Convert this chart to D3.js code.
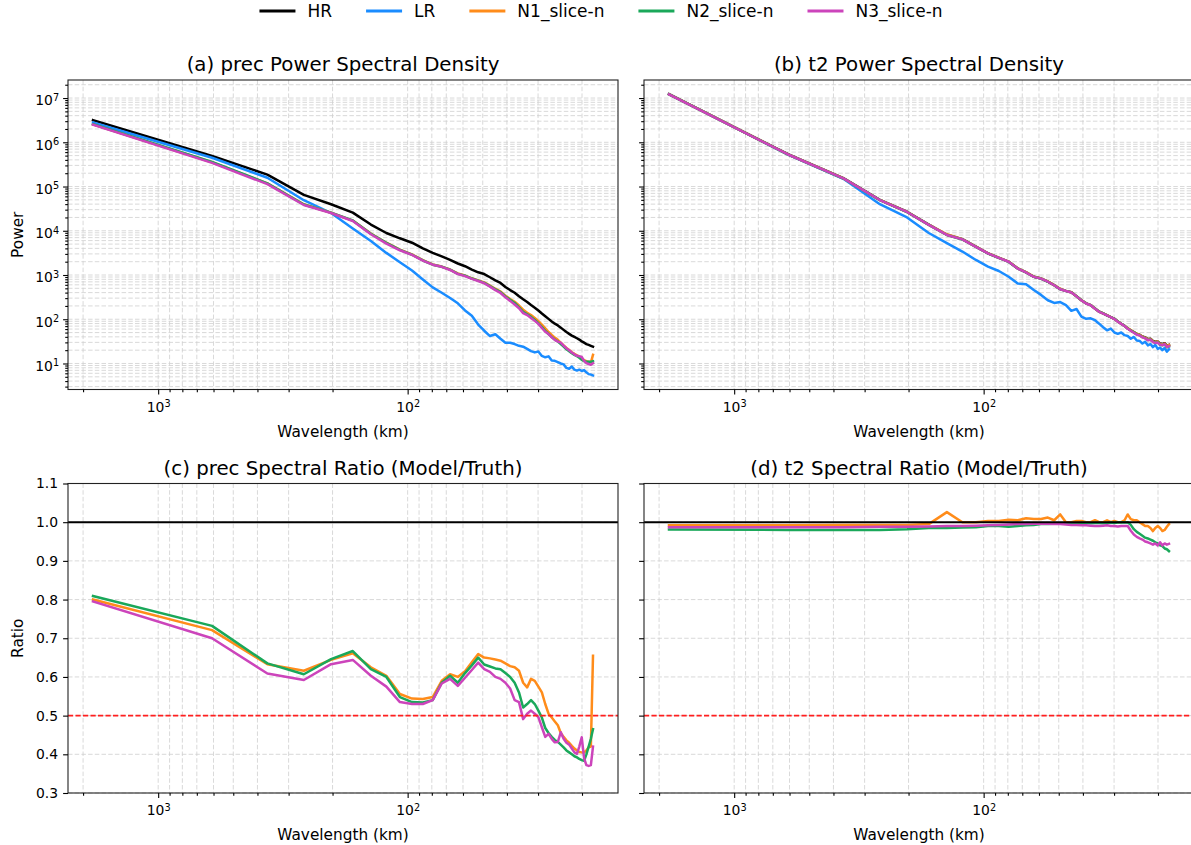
<!DOCTYPE html>
<html>
<head>
<meta charset="utf-8">
<script src="https://cdn.jsdelivr.net/npm/d3@7"></script>
<style>
  body { margin: 0; background: #fff; }
  text { font-family: "DejaVu Sans", sans-serif; fill: #000; }
</style>
</head>
<body>
<svg id="fig" width="1191" height="845"></svg>
<script>
// Wavelength of each spectral bin (km)
const wavelengthKm = [1825, 608.3, 365.0, 260.7, 202.8, 165.9, 140.4, 121.7, 107.4, 96.05,
  86.90, 79.35, 73.00, 67.59, 62.93, 58.87, 55.30, 52.14, 49.32, 46.79,
  44.51, 42.44, 40.56, 38.83, 37.24, 35.78, 34.43, 33.18, 32.02, 30.93,
  29.92, 28.97, 28.08, 27.24, 26.45, 25.71, 25.00, 24.33, 23.70, 23.09,
  22.52, 21.97, 21.45, 20.95, 20.51, 20.05, 19.62, 19.21, 18.81, 18.43, 18.07];

const seriesNames = ["HR", "LR", "N1_slice-n", "N2_slice-n", "N3_slice-n"];
const seriesColors = ["#000000", "#1a8cff", "#ff8c1a", "#1aa85a", "#cc44bb"];

// Precipitation power spectra
const precHR = [3.16e6, 4.90e5, 1.86e5, 6.46e4, 3.98e4, 2.57e4, 1.38e4, 8.91e3, 6.76e3, 5.37e3,
  3.98e3, 3.16e3, 2.63e3, 2.19e3, 1.82e3, 1.58e3, 1.32e3, 1.15e3, 1.05e3, 891,
  759, 661, 537, 457, 398, 331, 282, 245, 209, 182,
  158, 135, 117, 102, 89.1, 79.4, 72.4, 64.6, 57.5, 51.3,
  46.8, 42.7, 39.8, 37.2, 34.7, 31.6, 29.5, 27.5, 26.3, 25.1, 24.0];
const precLR = [2.79e6, 4.47e5, 1.58e5, 4.90e4, 2.51e4, 1.12e4, 5.89e3, 3.16e3, 1.95e3, 1.26e3,
  794, 525, 398, 302, 229, 158, 120, 75.9, 55.0, 41.7,
  45.7, 36.3, 29.5, 29.5, 27.5, 25.1, 24.0, 21.4, 19.1, 17.8,
  18.6, 14.8, 13.8, 14.5, 11.7, 11.5, 10.7, 10.0, 9.55, 7.94,
  7.59, 8.51, 7.24, 6.92, 7.24, 6.76, 7.08, 6.31, 5.75, 5.62, 5.37];
const precN1 = [2.53e6, 3.53e5, 1.18e5, 3.98e4, 2.56e4, 1.70e4, 8.63e3, 5.37e3, 3.76e3, 2.92e3,
  2.16e3, 1.73e3, 1.55e3, 1.33e3, 1.09e3, 972, 842, 758, 683, 577,
  490, 424, 341, 287, 249, 204, 165, 140, 124, 107,
  90.9, 75.6, 62.0, 51.5, 44.1, 38.5, 34.4, 29.4, 25.6, 22.4,
  20.1, 18.0, 16.5, 15.3, 14.1, 12.8, 11.9, 11.3, 11.0, 10.5, 15.7];
const precN2 = [2.56e6, 3.59e5, 1.18e5, 3.92e4, 2.57e4, 1.71e4, 8.56e3, 5.35e3, 3.70e3, 2.87e3,
  2.13e3, 1.71e3, 1.54e3, 1.32e3, 1.06e3, 964, 832, 748, 664, 559,
  472, 410, 328, 274, 233, 185, 147, 130, 113, 96.5,
  81.1, 66.8, 54.8, 46.4, 39.6, 34.7, 31.3, 27.5, 24.0, 21.0,
  19.0, 17.1, 15.7, 14.6, 13.5, 12.2, 11.3, 11.0, 11.0, 11.0, 11.2];
const precN3 = [2.51e6, 3.43e5, 1.13e5, 3.82e4, 2.52e4, 1.66e4, 8.32e3, 5.12e3, 3.62e3, 2.85e3,
  2.11e3, 1.71e3, 1.53e3, 1.30e3, 1.05e3, 945, 816, 733, 651, 546,
  455, 393, 314, 260, 215, 177, 138, 124, 107, 91.9,
  78.4, 63.5, 52.1, 46.2, 39.2, 34.2, 31.3, 29.5, 25.3, 22.1,
  19.9, 17.7, 16.1, 14.9, 14.6, 14.0, 11.5, 10.2, 9.73, 9.34, 10.1];

// 2 m temperature power spectra
const t2HR = [1.23e7, 5.37e5, 1.55e5, 5.01e4, 2.69e4, 1.38e4, 8.13e3, 6.46e3, 4.37e3, 3.09e3,
  2.45e3, 2.00e3, 1.41e3, 1.15e3, 912, 832, 708, 589, 479, 437,
  407, 331, 269, 229, 209, 174, 148, 135, 123, 112,
  102, 89.1, 79.4, 70.8, 61.7, 56.2, 51.3, 46.8, 44.7, 40.7,
  38.9, 35.5, 36.3, 32.4, 30.9, 31.6, 28.2, 27.5, 28.8, 25.1, 26.3];
const t2LR = [1.23e7, 5.25e5, 1.50e5, 3.98e4, 2.00e4, 8.90e3, 5.25e3, 3.39e3, 2.19e3, 1.55e3,
  1.23e3, 912, 646, 620, 457, 355, 269, 234, 245, 209,
  155, 170, 115, 102, 105, 95.0, 79.4, 66.1, 56.2, 61.7,
  50.1, 46.8, 50.1, 43.7, 41.7, 36.3, 39.8, 33.1, 32.4, 28.2,
  30.9, 25.7, 27.5, 23.4, 26.3, 21.4, 22.9, 20.0, 22.4, 18.6, 20.9];
const t2N1 = [1.22e7, 5.33e5, 1.54e5, 4.97e4, 2.67e4, 1.37e4, 8.34e3, 6.46e3, 4.37e3, 3.10e3,
  2.46e3, 2.01e3, 1.42e3, 1.16e3, 919, 839, 716, 592, 489, 437,
  407, 332, 270, 229, 209, 175, 148, 135, 124, 112,
  102, 89.1, 79.4, 71.2, 62.9, 56.7, 51.6, 47.0, 44.7, 40.5,
  38.5, 35.1, 35.8, 31.7, 30.4, 31.3, 27.8, 26.9, 28.2, 24.8, 26.2];
const t2N2 = [1.21e7, 5.26e5, 1.52e5, 4.91e4, 2.64e4, 1.36e4, 8.01e3, 6.37e3, 4.31e3, 3.06e3,
  2.43e3, 1.98e3, 1.40e3, 1.14e3, 906, 828, 704, 587, 478, 436,
  405, 330, 268, 229, 208, 174, 148, 135, 123, 112,
  102, 89.0, 79.4, 70.7, 61.7, 55.8, 50.4, 45.6, 43.4, 39.3,
  37.3, 34.0, 34.7, 30.8, 29.3, 29.9, 26.5, 25.8, 26.8, 23.3, 24.3];
const t2N3 = [1.21e7, 5.30e5, 1.53e5, 4.95e4, 2.66e4, 1.36e4, 8.05e3, 6.40e3, 4.33e3, 3.07e3,
  2.43e3, 1.99e3, 1.40e3, 1.14e3, 908, 829, 705, 586, 477, 434,
  404, 329, 267, 227, 207, 172, 147, 134, 122, 111,
  101, 88.1, 78.6, 70.1, 61.1, 55.0, 49.7, 45.0, 42.8, 38.9,
  37.0, 33.7, 34.3, 30.5, 29.2, 29.7, 26.7, 25.9, 27.2, 23.6, 24.8];

// Spectral ratios (model / truth)
const precRatioN1 = [0.800, 0.721, 0.633, 0.616, 0.644, 0.661, 0.625, 0.603, 0.556, 0.544,
  0.543, 0.548, 0.590, 0.607, 0.600, 0.615, 0.638, 0.659, 0.650, 0.648,
  0.645, 0.642, 0.635, 0.628, 0.625, 0.616, 0.585, 0.573, 0.595, 0.590,
  0.575, 0.560, 0.530, 0.505, 0.495, 0.485, 0.475, 0.455, 0.445, 0.436,
  0.430, 0.422, 0.415, 0.410, 0.406, 0.405, 0.405, 0.410, 0.418, 0.420, 0.655];
const precRatioN2 = [0.809, 0.732, 0.635, 0.607, 0.646, 0.667, 0.620, 0.600, 0.548, 0.535,
  0.534, 0.540, 0.585, 0.603, 0.585, 0.610, 0.630, 0.650, 0.632, 0.627,
  0.622, 0.620, 0.610, 0.600, 0.585, 0.560, 0.521, 0.530, 0.540, 0.530,
  0.513, 0.495, 0.468, 0.455, 0.445, 0.437, 0.432, 0.425, 0.418, 0.410,
  0.405, 0.400, 0.395, 0.392, 0.388, 0.385, 0.383, 0.400, 0.420, 0.440, 0.465];
const precRatioN3 = [0.795, 0.700, 0.609, 0.592, 0.633, 0.644, 0.603, 0.575, 0.535, 0.530,
  0.530, 0.540, 0.583, 0.595, 0.577, 0.598, 0.618, 0.637, 0.620, 0.613,
  0.600, 0.595, 0.585, 0.570, 0.540, 0.535, 0.491, 0.505, 0.513, 0.505,
  0.496, 0.470, 0.445, 0.453, 0.440, 0.431, 0.432, 0.457, 0.440, 0.430,
  0.425, 0.415, 0.405, 0.401, 0.420, 0.444, 0.390, 0.372, 0.370, 0.372, 0.420];
const t2RatioN1 = [0.992, 0.992, 0.993, 0.993, 0.993, 0.995, 1.026, 1.000, 1.000, 1.003,
  1.003, 1.006, 1.005, 1.010, 1.008, 1.008, 1.012, 1.005, 1.020, 1.000,
  1.000, 1.003, 1.003, 1.000, 1.000, 1.005, 1.000, 1.000, 1.005, 1.000,
  1.003, 1.000, 1.000, 1.005, 1.020, 1.008, 1.005, 1.005, 1.000, 0.995,
  0.990, 0.990, 0.985, 0.977, 0.985, 0.990, 0.985, 0.977, 0.980, 0.988, 0.995];
const t2RatioN2 = [0.981, 0.980, 0.980, 0.980, 0.982, 0.985, 0.985, 0.986, 0.987, 0.990,
  0.990, 0.988, 0.990, 0.992, 0.993, 0.995, 0.995, 0.996, 0.997, 0.997,
  0.996, 0.997, 0.998, 0.998, 0.997, 0.998, 0.998, 0.997, 0.998, 0.999,
  0.998, 0.999, 1.000, 0.999, 1.000, 0.993, 0.982, 0.975, 0.970, 0.965,
  0.960, 0.958, 0.955, 0.952, 0.948, 0.945, 0.940, 0.938, 0.932, 0.930, 0.925];
const t2RatioN3 = [0.987, 0.987, 0.987, 0.988, 0.988, 0.989, 0.990, 0.990, 0.991, 0.992,
  0.993, 0.994, 0.995, 0.995, 0.996, 0.996, 0.996, 0.995, 0.995, 0.994,
  0.993, 0.993, 0.992, 0.992, 0.991, 0.990, 0.990, 0.991, 0.992, 0.990,
  0.990, 0.989, 0.990, 0.990, 0.990, 0.978, 0.968, 0.962, 0.958, 0.955,
  0.950, 0.948, 0.945, 0.942, 0.945, 0.940, 0.948, 0.940, 0.945, 0.942, 0.944];

const ratioTicks = [0.3, 0.4, 0.5, 0.6, 0.7, 0.8, 0.9, 1.0, 1.1];
const ratioRange = [0.3, 1.1];
const ratioReference = 1.0;
const ratioThreshold = 0.5;

// ---------------------------------------------------------------------------
const svg = d3.select("#fig");
const panelW = 550, panelH = 309.5;
const FS_TICK = 13.9, FS_LABEL = 15.3, FS_TITLE = 19.8, FS_LEGEND = 17;
const GRID = "#cfcfcf";
const LW = 2.5;

const panels = [
  { left: 68,  top: 80,    kind: "psd",   title: "(a) prec Power Spectral Density", ylabel: "Power", yLabels: true,
    series: [precHR, precLR, precN1, precN2, precN3], idx: [0, 1, 2, 3, 4] },
  { left: 644, top: 80,    kind: "psd",   title: "(b) t2 Power Spectral Density", ylabel: null, yLabels: false,
    series: [t2HR, t2LR, t2N1, t2N2, t2N3], idx: [0, 1, 2, 3, 4] },
  { left: 68,  top: 483.5, kind: "ratio", title: "(c) prec Spectral Ratio (Model/Truth)", ylabel: "Ratio", yLabels: true,
    series: [precRatioN1, precRatioN2, precRatioN3], idx: [2, 3, 4] },
  { left: 644, top: 483.5, kind: "ratio", title: "(d) t2 Spectral Ratio (Model/Truth)", ylabel: null, yLabels: false,
    series: [t2RatioN1, t2RatioN2, t2RatioN3], idx: [2, 3, 4] }
];

// x: log wavelength, decreasing to the right, 5% margin in log space
const lx = d3.extent(wavelengthKm, d => Math.log10(d));
const padX = (lx[1] - lx[0]) * 0.05;
const x = d3.scaleLog().domain([10 ** (lx[1] + padX), 10 ** (lx[0] - padX)]).range([0, panelW]);

// shared y for the two spectra panels
const allPsd = [precHR, precLR, precN1, precN2, precN3, t2HR, t2LR, t2N1, t2N2, t2N3].flat();
const ly = d3.extent(allPsd, d => Math.log10(d));
const padY = (ly[1] - ly[0]) * 0.05;
const yPsd = d3.scaleLog().domain([10 ** (ly[0] - padY), 10 ** (ly[1] + padY)]).range([panelH, 0]);
const yRatio = d3.scaleLinear().domain(ratioRange).range([panelH, 0]);

const xTicksAll = x.ticks(30);
const isPow10 = v => Math.abs(Math.log10(v) - Math.round(Math.log10(v))) < 1e-9;
const xMajor = xTicksAll.filter(isPow10);
const xMinor = xTicksAll.filter(v => !isPow10(v));
const yTicksAll = yPsd.ticks(30);
const yMajor = yTicksAll.filter(isPow10);
const yMinor = yTicksAll.filter(v => !isPow10(v));

function powLabel(sel) {
  sel.each(function (d) {
    const t = d3.select(this);
    const e = Math.round(Math.log10(d));
    t.text(null);
    t.append("tspan").text("10");
    t.append("tspan").attr("dy", "-0.48em").attr("font-size", (FS_TICK * 0.7) + "px").text(e);
  });
}

function styleAxis(g) {
  g.select(".domain").remove();
  g.selectAll(".tick line").attr("stroke", "#000").attr("stroke-width", 1.1);
  g.selectAll(".tick text").attr("font-size", FS_TICK + "px").attr("font-family", "DejaVu Sans, sans-serif").attr("fill", "#000");
}

panels.forEach((p, pi) => {
  const g = svg.append("g").attr("transform", `translate(${p.left},${p.top})`);
  const y = p.kind === "psd" ? yPsd : yRatio;

  const clipId = "clip" + pi;
  g.append("clipPath").attr("id", clipId).append("rect").attr("width", panelW).attr("height", panelH);

  // grid on every major and minor tick
  const grid = g.append("g").attr("stroke", GRID).attr("stroke-width", 0.8).attr("stroke-dasharray", "4.5,2.2");
  grid.selectAll("line.gx").data(xTicksAll).join("line")
    .attr("x1", d => x(d)).attr("x2", d => x(d)).attr("y1", 0).attr("y2", panelH);
  const yGrid = p.kind === "psd" ? yTicksAll : ratioTicks;
  grid.selectAll("line.gy").data(yGrid).join("line")
    .attr("x1", 0).attr("x2", panelW).attr("y1", d => y(d)).attr("y2", d => y(d));

  // series
  const plot = g.append("g").attr("clip-path", `url(#${clipId})`);
  const line = d3.line().x((d, i) => x(wavelengthKm[i])).y(d => y(d));
  p.series.forEach((s, k) => {
    plot.append("path").datum(s).attr("d", line)
      .attr("fill", "none").attr("stroke", seriesColors[p.idx[k]])
      .attr("stroke-width", LW).attr("stroke-linejoin", "round").attr("stroke-linecap", "square");
  });

  if (p.kind === "ratio") {
    plot.append("line").attr("x1", 0).attr("x2", panelW)
      .attr("y1", y(ratioReference)).attr("y2", y(ratioReference))
      .attr("stroke", "#000").attr("stroke-width", 2.1);
    plot.append("line").attr("x1", 0).attr("x2", panelW)
      .attr("y1", y(ratioThreshold)).attr("y2", y(ratioThreshold))
      .attr("stroke", "#ff1f1f").attr("stroke-width", 1.6).attr("stroke-dasharray", "5.2,2.3");
  }

  // frame
  g.append("rect").attr("width", panelW).attr("height", panelH)
    .attr("fill", "none").attr("stroke", "#222").attr("stroke-width", 1.1);

  // x axis
  const gxMin = g.append("g").attr("transform", `translate(0,${panelH})`)
    .call(d3.axisBottom(x).tickValues(xMinor).tickSize(2.8).tickFormat(""));
  styleAxis(gxMin);
  const gxMaj = g.append("g").attr("transform", `translate(0,${panelH})`)
    .call(d3.axisBottom(x).tickValues(xMajor).tickSize(4.9).tickPadding(7.5));
  styleAxis(gxMaj);
  gxMaj.selectAll(".tick text").call(powLabel);

  g.append("text").attr("x", panelW / 2).attr("y", panelH + 47)
    .attr("text-anchor", "middle").attr("font-size", FS_LABEL + "px").text("Wavelength (km)");

  // y axis
  if (p.kind === "psd") {
    const gyMin = g.append("g").call(d3.axisLeft(y).tickValues(yMinor).tickSize(2.8).tickFormat(""));
    styleAxis(gyMin);
    const gyMaj = g.append("g").call(d3.axisLeft(y).tickValues(yMajor).tickSize(4.9).tickPadding(4));
    styleAxis(gyMaj);
    if (p.yLabels) {
      gyMaj.selectAll(".tick text").call(powLabel).attr("dy", "0.5em");
    } else {
      gyMaj.selectAll(".tick text").remove();
    }
  } else {
    const gy = g.append("g").call(d3.axisLeft(y).tickValues(ratioTicks).tickSize(4.9).tickPadding(5).tickFormat(d3.format(".1f")));
    styleAxis(gy);
    if (!p.yLabels) gy.selectAll(".tick text").remove();
  }

  if (p.ylabel) {
    g.append("text").attr("transform", `translate(${-45},${panelH / 2}) rotate(-90)`)
      .attr("text-anchor", "middle").attr("font-size", FS_LABEL + "px").text(p.ylabel);
  }

  g.append("text").attr("x", panelW / 2).attr("y", -9)
    .attr("text-anchor", "middle").attr("font-size", FS_TITLE + "px").text(p.title);
});

// legend across the top
const legend = svg.append("g").attr("transform", "translate(0,11)");
const handleLen = 36, handlePad = 12, colGap = 34;
const items = seriesNames.map((name, i) => {
  const t = legend.append("text").attr("font-size", FS_LEGEND + "px").attr("dominant-baseline", "central").text(name);
  return { t, w: t.node().getComputedTextLength(), i };
});
const totalW = d3.sum(items, d => handleLen + handlePad + d.w) + colGap * (items.length - 1);
let cx = 601 - totalW / 2;
items.forEach(d => {
  legend.append("line").attr("x1", cx).attr("x2", cx + handleLen).attr("y1", 0).attr("y2", 0)
    .attr("stroke", seriesColors[d.i]).attr("stroke-width", 2.8);
  d.t.attr("x", cx + handleLen + handlePad).attr("y", 0);
  cx += handleLen + handlePad + d.w + colGap;
});
</script>
</body>
</html>
